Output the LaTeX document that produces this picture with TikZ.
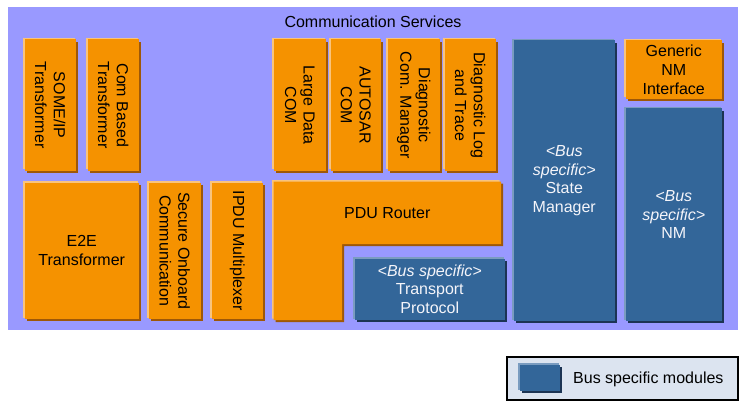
\documentclass[tikz,border=0pt]{standalone}
\usepackage{fontspec}
\setmainfont{Liberation Sans}
\usetikzlibrary{shadows}
\definecolor{bgc}{RGB}{153,153,255}
\definecolor{orm}{RGB}{245,146,0}
\definecolor{orl}{RGB}{249,196,124}
\definecolor{ord}{RGB}{158,88,8}
\definecolor{blm}{RGB}{51,102,153}
\definecolor{bll}{RGB}{122,156,192}
\definecolor{bld}{RGB}{28,52,84}
\definecolor{lgc}{RGB}{220,228,240}
\definecolor{btx}{RGB}{245,245,250}
\newcommand\modbox[7]{\node[#1, minimum width={#5-#3}, minimum height={#6-#4}] (#2) at ({(#3+#5)/2},{(#4+#6)/2}) {#7};}
\newcommand\rottext[2]{\node[txt, rotate=-90] (#1t) at (#1.center) {#2};}
\begin{document}
\begin{tikzpicture}[x=1pt,y=-1pt,
  txt/.style={align=center, font=\fontsize{16}{18.6}\selectfont, inner sep=0pt},
  basebox/.style={rectangle, inner sep=0pt, outer sep=0pt, draw=none, txt},
  obox/.style={basebox, fill=orm, text=black,
    general shadow={shadow xshift=2pt, shadow yshift=-2.2pt, fill=ord},
    general shadow={shadow xshift=-1.5pt, shadow yshift=1.5pt, fill=orl}},
  bbox/.style={basebox, fill=blm, text=btx,
    general shadow={shadow xshift=2pt, shadow yshift=-2.2pt, fill=bld},
    general shadow={shadow xshift=-1.5pt, shadow yshift=1.5pt, fill=bll}}]
\useasboundingbox (0,0) rectangle (747,409);
\fill[white] (0,0) rectangle (747,409);
% background
\modbox{basebox, fill=bgc}{cs}{8}{7}{738}{330}{}
\node[txt] (cstitle) at (373,21.5) {Communication Services};
% top-left transformers
\modbox{obox}{someip}{24.5}{39.5}{76}{171}{}
\rottext{someip}{SOME/IP\\Transformer}
\modbox{obox}{combased}{87.5}{39.5}{139}{171}{}
\rottext{combased}{Com Based\\Transformer}
% top middle
\modbox{obox}{ldcom}{273.5}{39.5}{326}{171}{}
\rottext{ldcom}{Large Data\\COM}
\modbox{obox}{acom}{330.5}{39.5}{381}{171}{}
\rottext{acom}{AUTOSAR\\COM}
\modbox{obox}{dcm}{387.5}{39.5}{440}{171}{}
\rottext{dcm}{Diagnostic\\Com. Manager}
\modbox{obox}{dlt}{444.5}{39.5}{496}{171}{}
\rottext{dlt}{Diagnostic Log\\and Trace}
% bottom left
\modbox{obox}{e2e}{24.5}{182.5}{139}{319}{E2E\\Transformer}
\modbox{obox}{secoc}{148.5}{182.5}{201}{319}{}
\rottext{secoc}{Secure Onboard\\Communication}
\modbox{obox}{ipdum}{211.5}{182.5}{263}{319}{}
\rottext{ipdum}{IPDU Multiplexer}
% PDU router (L shape)
\def\pduL{(273.5,181.5) -- (501,181.5) -- (501,244) -- (342,244) -- (342,320) -- (273.5,320) -- cycle}
\fill[ord, shift={(2,2.2)}] \pduL;
\fill[orl, shift={(-1.5,-1.5)}] \pduL;
\fill[orm] \pduL;
\modbox{basebox}{pdur}{273.5}{181.5}{501}{244}{PDU Router}
% transport protocol
\modbox{bbox}{tp}{354.5}{258.5}{505}{320}{\textit{<Bus specific>}\\Transport\\Protocol}
% state manager, NM
\modbox{bbox}{sm}{513.5}{40.5}{615}{321}{\textit{<Bus}\\\textit{specific>}\\State\\Manager}
\modbox{obox}{nmif}{625.5}{40.5}{722}{99}{Generic\\NM\\Interface}
\modbox{bbox}{nm}{625.5}{108.5}{722}{321}{\textit{<Bus}\\\textit{specific>}\\NM}
% legend
\modbox{basebox, fill=lgc, draw=black, line width=1.1pt}{legend}{507}{357}{738}{400}{}
\modbox{bbox}{legsq}{519.5}{364.5}{560}{391}{}
\node[txt, anchor=west] (legtext) at (573,379.5) {Bus specific modules};
\end{tikzpicture}
\end{document}
